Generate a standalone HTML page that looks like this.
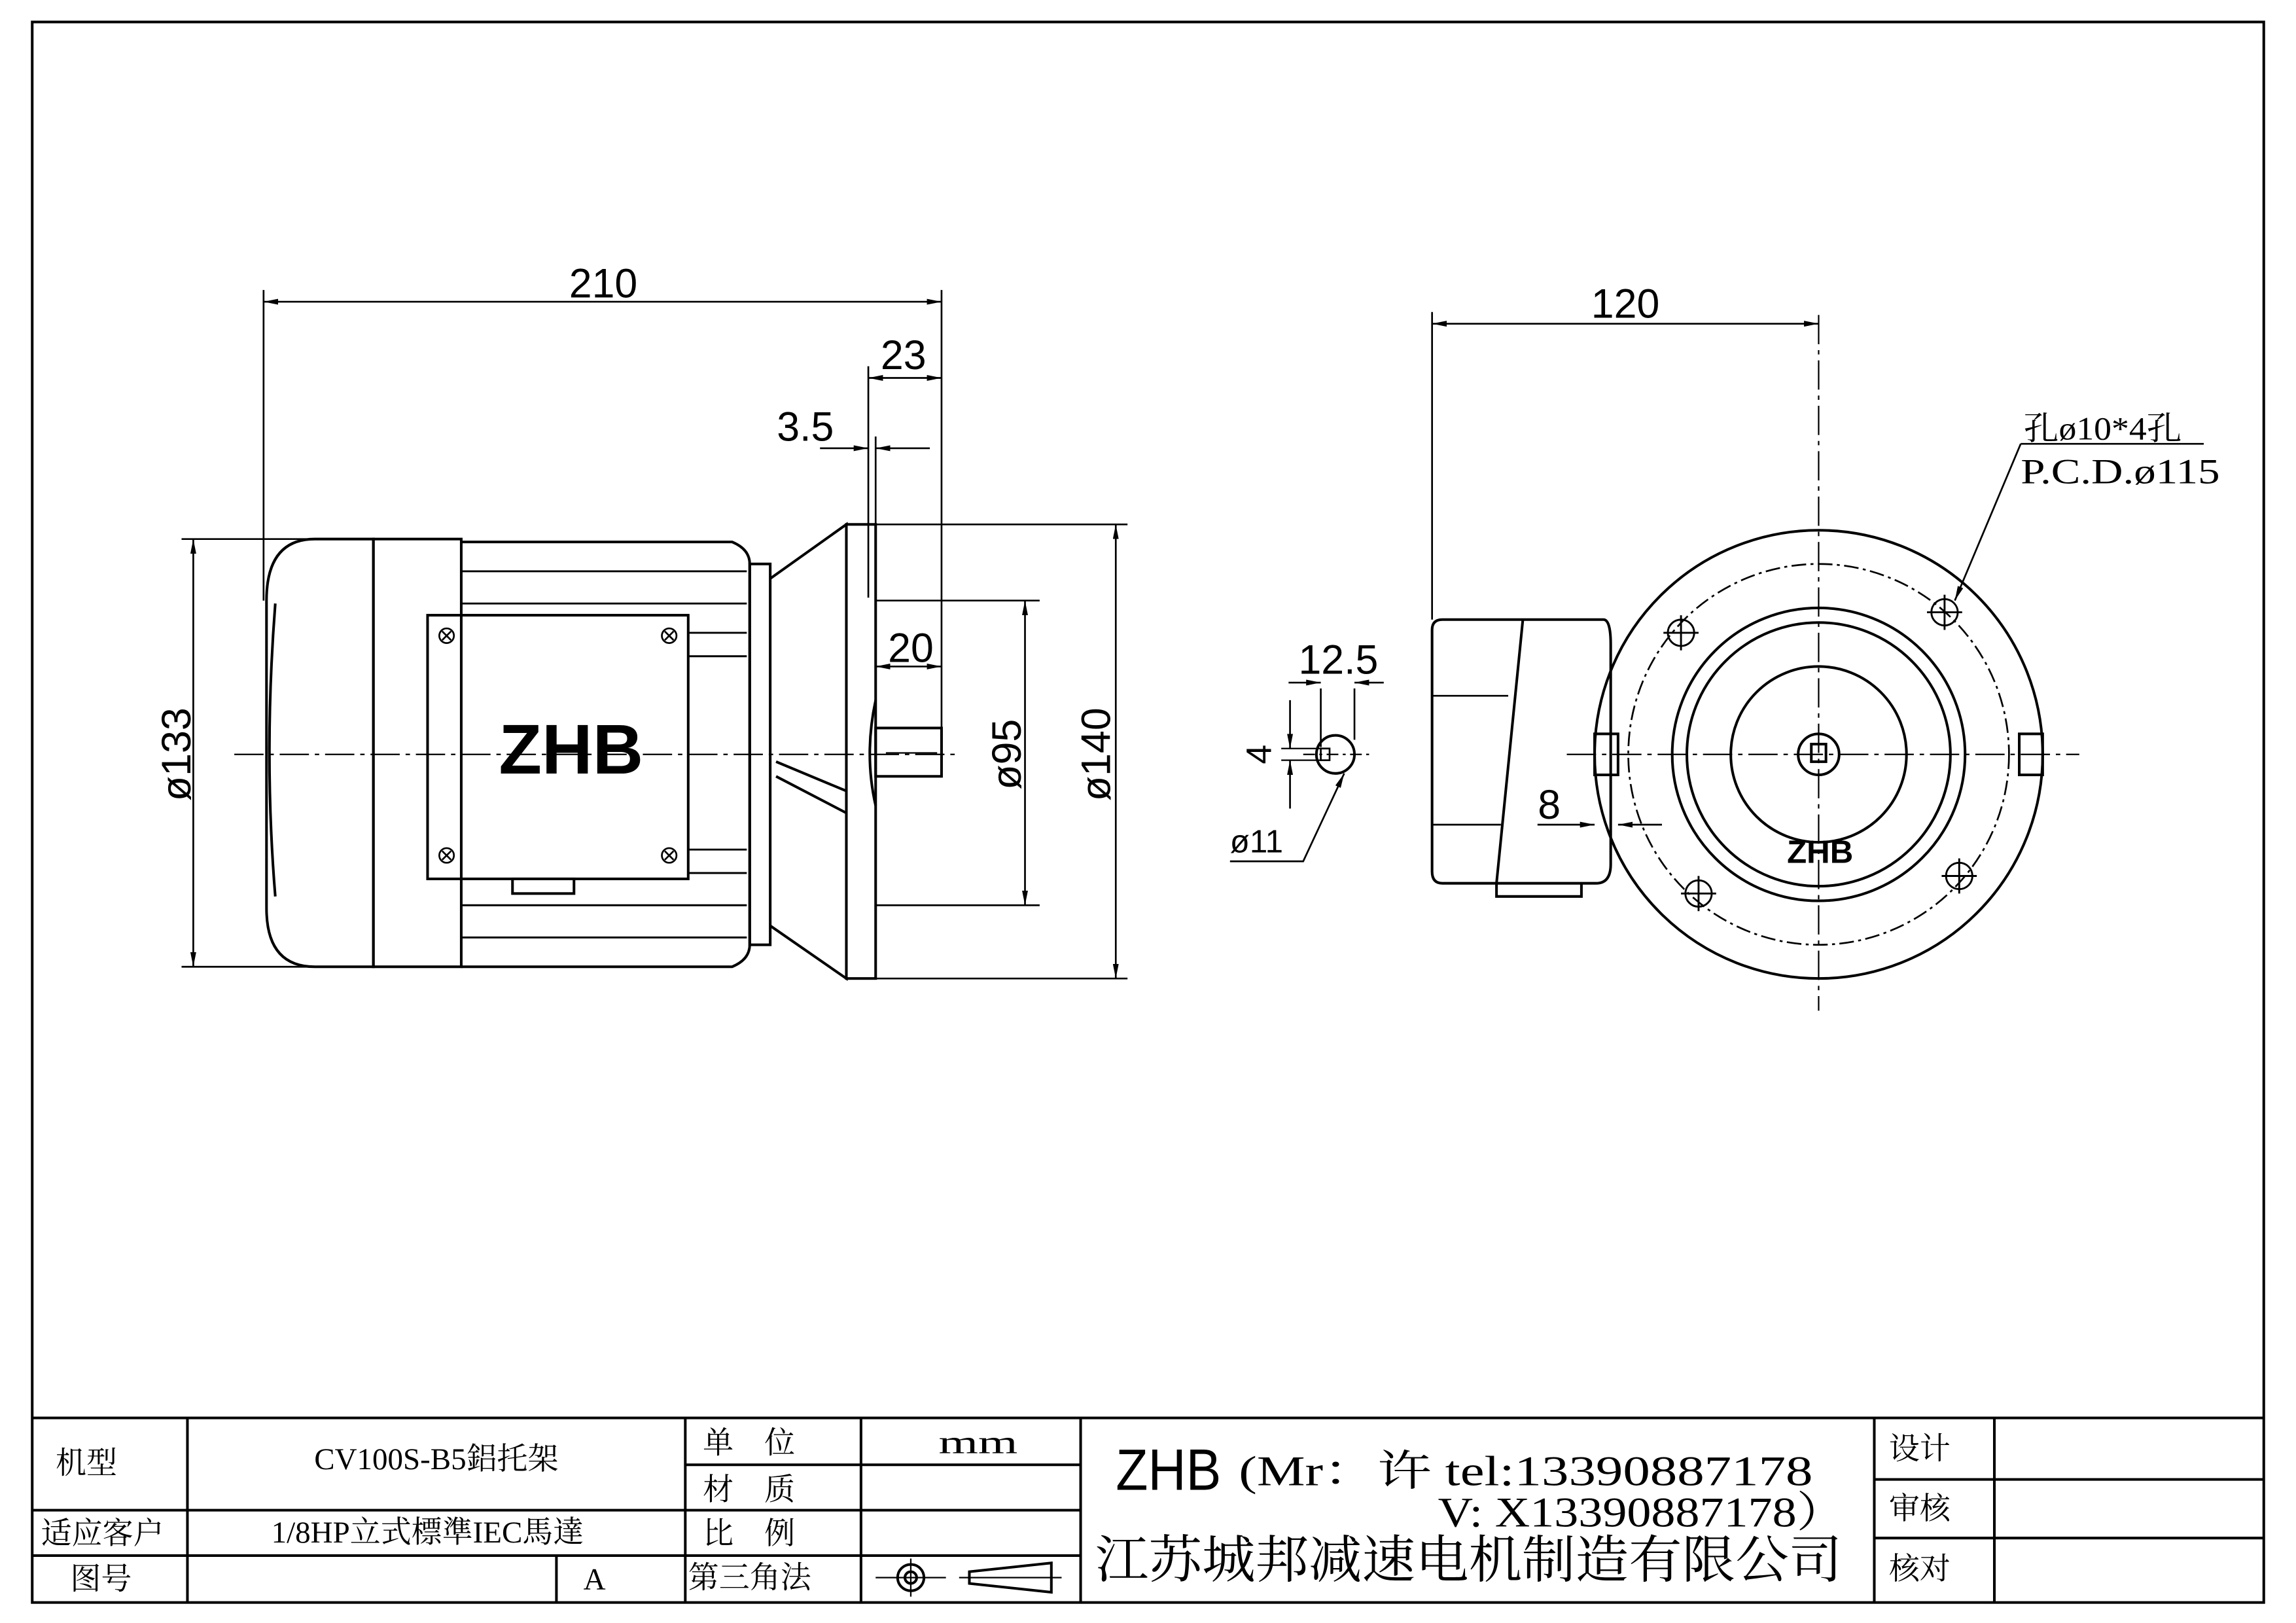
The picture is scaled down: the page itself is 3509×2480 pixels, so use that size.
<!DOCTYPE html>
<html><head><meta charset="utf-8"><style>
html,body{margin:0;padding:0;background:#fff}
svg{display:block}
text{font-family:"Liberation Serif","Noto Serif CJK SC",serif;fill:#000}
.s{font-family:"Liberation Sans","Noto Sans CJK SC",sans-serif}
</style></head><body>
<svg width="3509" height="2480" viewBox="0 0 1568 1108" preserveAspectRatio="none" xmlns="http://www.w3.org/2000/svg">
<defs>
<marker id="a" viewBox="0 0 10 4" refX="10" refY="2" markerWidth="10" markerHeight="4" markerUnits="userSpaceOnUse" orient="auto-start-reverse"><path d="M0,0L10,2L0,4z"/></marker>
</defs>
<g fill="none" stroke="#000" stroke-width="1.8">
<rect x="22" y="15" width="1524" height="1079"/>
<line x1="22" y1="968" x2="1546" y2="968"/>
<line x1="22" y1="1031" x2="738" y2="1031"/>
<line x1="22" y1="1062" x2="738" y2="1062"/>
<line x1="468" y1="1000" x2="738" y2="1000"/>
<line x1="128" y1="968" x2="128" y2="1094"/>
<line x1="468" y1="968" x2="468" y2="1094"/>
<line x1="588" y1="968" x2="588" y2="1094"/>
<line x1="738" y1="968" x2="738" y2="1094"/>
<line x1="380" y1="1062" x2="380" y2="1094"/>
<line x1="1280" y1="968" x2="1280" y2="1094"/>
<line x1="1362" y1="968" x2="1362" y2="1094"/>
<line x1="1280" y1="1010" x2="1546" y2="1010"/>
<line x1="1280" y1="1050" x2="1546" y2="1050"/>
<circle cx="622" cy="1077" r="9"/><circle cx="622" cy="1077" r="4"/>
<line x1="598" y1="1077" x2="646" y2="1077" stroke-width="1"/>
<line x1="622" y1="1064" x2="622" y2="1090" stroke-width="1"/>
<path d="M662,1073 L718,1067 L718,1087 L662,1081 Z"/>
<line x1="655" y1="1077" x2="725" y2="1077" stroke-width="1"/>

<path d="M255,368 L215,368 Q182,368 182,410 L182,620 Q182,660 215,660 L255,660 Z"/>
<path d="M188,412 Q180,515 188,612"/>
<rect x="255" y="368" width="60" height="292"/>
<path d="M315,370 L500,370 Q512,375 512,385 L512,645 Q512,655 500,660 L315,660"/>
<g stroke-width="1.3">
<line x1="315" y1="390" x2="510" y2="390"/><line x1="315" y1="412" x2="510" y2="412"/>
<line x1="470" y1="432" x2="510" y2="432"/><line x1="470" y1="448" x2="510" y2="448"/>
<line x1="470" y1="580" x2="510" y2="580"/><line x1="470" y1="596" x2="510" y2="596"/>
<line x1="315" y1="618" x2="510" y2="618"/><line x1="315" y1="640" x2="510" y2="640"/>
</g>
<rect x="292" y="420" width="178" height="180"/>
<rect x="350" y="600" width="42" height="10"/>
<g stroke-width="1.2">
<circle cx="305" cy="434" r="5"/><circle cx="457" cy="434" r="5"/><circle cx="305" cy="584" r="5"/><circle cx="457" cy="584" r="5"/>
<path d="M302,431l6,6M308,431l-6,6M454,431l6,6M460,431l-6,6M302,581l6,6M308,581l-6,6M454,581l6,6M460,581l-6,6"/>
</g>
<rect x="512" y="385" width="14" height="260"/>
<path d="M526,395 L578,358 L578,668 L526,632"/>
<line x1="530" y1="530" x2="578" y2="555"/><line x1="530" y1="520" x2="578" y2="540"/>
<rect x="578" y="358" width="20" height="310"/>
<path d="M598,478 Q590,515 598,550"/>
<rect x="598" y="497" width="45" height="33"/>
<line x1="605" y1="514" x2="640" y2="514" stroke-width="1"/>
<line x1="160" y1="515" x2="655" y2="515" stroke-width="1" stroke-dasharray="20,4,3,4"/>
<line x1="180" y1="198" x2="180" y2="410" stroke-width="1.2"/>
<line x1="643" y1="198" x2="643" y2="497" stroke-width="1.2"/>
<line x1="180" y1="206" x2="643" y2="206" stroke-width="1.2" marker-start="url(#a)" marker-end="url(#a)"/>
<line x1="593" y1="250" x2="593" y2="408" stroke-width="1.2"/>
<line x1="593" y1="258" x2="643" y2="258" stroke-width="1.2" marker-start="url(#a)" marker-end="url(#a)"/>
<line x1="598" y1="298" x2="598" y2="358" stroke-width="1.2"/>
<line x1="560" y1="306" x2="593" y2="306" stroke-width="1.2" marker-end="url(#a)"/>
<line x1="635" y1="306" x2="598" y2="306" stroke-width="1.2" marker-end="url(#a)"/>
<line x1="598" y1="455" x2="643" y2="455" stroke-width="1.2" marker-start="url(#a)" marker-end="url(#a)"/>
<line x1="124" y1="368" x2="255" y2="368" stroke-width="1.2"/>
<line x1="124" y1="660" x2="255" y2="660" stroke-width="1.2"/>
<line x1="132" y1="368" x2="132" y2="660" stroke-width="1.2" marker-start="url(#a)" marker-end="url(#a)"/>
<line x1="598" y1="410" x2="710" y2="410" stroke-width="1.2"/>
<line x1="598" y1="618" x2="710" y2="618" stroke-width="1.2"/>
<line x1="700" y1="410" x2="700" y2="618" stroke-width="1.2" marker-start="url(#a)" marker-end="url(#a)"/>
<line x1="598" y1="358" x2="770" y2="358" stroke-width="1.2"/>
<line x1="598" y1="668" x2="770" y2="668" stroke-width="1.2"/>
<line x1="762" y1="358" x2="762" y2="668" stroke-width="1.2" marker-start="url(#a)" marker-end="url(#a)"/>

<path d="M985,423 L1095,423 Q1100,423 1100,440 L1100,590 Q1100,603 1090,603 L985,603 Q978,603 978,595 L978,430 Q978,423 985,423 Z"/>
<line x1="1040" y1="423" x2="1022" y2="603"/>
<path d="M1022,603 L1022,612 L1080,612 L1080,603"/>
<line x1="978" y1="475" x2="1030" y2="475" stroke-width="1.2"/>
<line x1="978" y1="563" x2="1025" y2="563" stroke-width="1.2"/>
<circle cx="1242" cy="515" r="153"/>
<circle cx="1242" cy="515" r="130" stroke-width="1.2" stroke-dasharray="10,3,2,3"/>
<circle cx="1242" cy="515" r="100"/>
<circle cx="1242" cy="515" r="90"/>
<circle cx="1242" cy="515" r="60"/>
<circle cx="1242" cy="515" r="14"/>
<rect x="1237" y="508" width="10" height="12"/>
<rect x="1089" y="501" width="16" height="28"/>
<rect x="1379" y="501" width="16" height="28"/>
<g stroke-width="1.3">
<circle cx="1148" cy="432" r="9"/><circle cx="1328" cy="418" r="9"/><circle cx="1160" cy="610" r="9"/><circle cx="1338" cy="598" r="9"/>
<path d="M1136,432h24M1148,420v24M1316,418h24M1328,406v24M1148,610h24M1160,598v24M1326,598h24M1338,586v24"/>
</g>
<line x1="1242" y1="215" x2="1242" y2="690" stroke-width="1" stroke-dasharray="20,4,3,4"/>
<line x1="1070" y1="515" x2="1420" y2="515" stroke-width="1" stroke-dasharray="20,4,3,4"/>
<line x1="978" y1="213" x2="978" y2="423" stroke-width="1.2"/>
<line x1="978" y1="221" x2="1242" y2="221" stroke-width="1.2" marker-start="url(#a)" marker-end="url(#a)"/>
<path d="M1380,303 L1505,303" stroke-width="1.2"/>
<line x1="1380" y1="303" x2="1335" y2="410" stroke-width="1.2" marker-end="url(#a)"/>
<line x1="1050" y1="563" x2="1089" y2="563" stroke-width="1.2" marker-end="url(#a)"/>
<line x1="1135" y1="563" x2="1105" y2="563" stroke-width="1.2" marker-end="url(#a)"/>
<circle cx="912" cy="515" r="13"/>
<rect x="902" y="511" width="6" height="8" stroke-width="1.2"/>
<line x1="890" y1="515" x2="935" y2="515" stroke-width="1" stroke-dasharray="8,3,2,3"/>
<line x1="902" y1="470" x2="902" y2="510" stroke-width="1.2"/>
<line x1="925" y1="470" x2="925" y2="505" stroke-width="1.2"/>
<line x1="880" y1="466" x2="902" y2="466" stroke-width="1.2" marker-end="url(#a)"/>
<line x1="945" y1="466" x2="925" y2="466" stroke-width="1.2" marker-end="url(#a)"/>
<line x1="875" y1="511" x2="902" y2="511" stroke-width="1"/>
<line x1="875" y1="519" x2="902" y2="519" stroke-width="1"/>
<line x1="881" y1="478" x2="881" y2="511" stroke-width="1.2" marker-end="url(#a)"/>
<line x1="881" y1="552" x2="881" y2="519" stroke-width="1.2" marker-end="url(#a)"/>
<path d="M840,588 L890,588 L918,528" stroke-width="1.2" marker-end="url(#a)"/>
</g>

<g font-size="28">
<text x="412" y="203" text-anchor="middle" class="s">210</text>
<text x="617" y="252" text-anchor="middle" class="s">23</text>
<text x="550" y="301" text-anchor="middle" class="s">3.5</text>
<text x="622" y="452" text-anchor="middle" class="s">20</text>
<text x="1110" y="217" text-anchor="middle" class="s">120</text>
<text x="914" y="460" text-anchor="middle" class="s">12.5</text>
<text x="1058" y="559" text-anchor="middle" class="s">8</text>
<text transform="translate(130,515) rotate(-90)" text-anchor="middle" class="s">ø133</text>
<text transform="translate(697,515) rotate(-90)" text-anchor="middle" class="s">ø95</text>
<text transform="translate(758,515) rotate(-90)" text-anchor="middle" class="s">ø140</text>
<text transform="translate(868,515) rotate(-90)" text-anchor="middle" class="s" font-size="24">4</text>
</g>
<text x="840" y="582" font-size="22" class="s">ø11</text>
<text x="1382" y="300" font-size="22" textLength="108" lengthAdjust="spacingAndGlyphs">孔ø10*4孔</text>
<text x="1380" y="330" font-size="24" textLength="136" lengthAdjust="spacingAndGlyphs">P.C.D.ø115</text>
<text x="390" y="528" font-size="48" font-weight="bold" text-anchor="middle" class="s">ZHB</text>
<text x="1243" y="589" font-size="22" font-weight="bold" text-anchor="middle" class="s">ZHB</text>

<g font-size="21">
<text x="38" y="1006">机型</text>
<text x="298" y="1003" text-anchor="middle">CV100S-B5鋁托架</text>
<text x="28" y="1054">适应客户</text>
<text x="292" y="1053" text-anchor="middle">1/8HP立式標準IEC馬達</text>
<text x="48" y="1085">图号</text>
<text x="406" y="1085" text-anchor="middle">A</text>
<text x="480" y="992">单　位</text>
<text x="480" y="1024">材　质</text>
<text x="480" y="1054">比　例</text>
<text x="470" y="1084">第三角法</text>
<text x="668" y="992" text-anchor="middle" font-size="22" textLength="54" lengthAdjust="spacingAndGlyphs">mm</text>
<text x="1290" y="996">设计</text>
<text x="1290" y="1037">审核</text>
<text x="1290" y="1078">核对</text>
</g>
<text x="762" y="1017" font-size="40" class="s" textLength="72" lengthAdjust="spacingAndGlyphs">ZHB</text>
<text x="846" y="1014" font-size="29" textLength="392" lengthAdjust="spacingAndGlyphs">(Mr：许  tel:13390887178</text>
<text x="982" y="1042" font-size="29" textLength="278" lengthAdjust="spacingAndGlyphs">V: X13390887178）</text>
<text x="748" y="1077" font-size="35" textLength="510" lengthAdjust="spacingAndGlyphs">江苏城邦减速电机制造有限公司</text>
</svg>
</body></html>
